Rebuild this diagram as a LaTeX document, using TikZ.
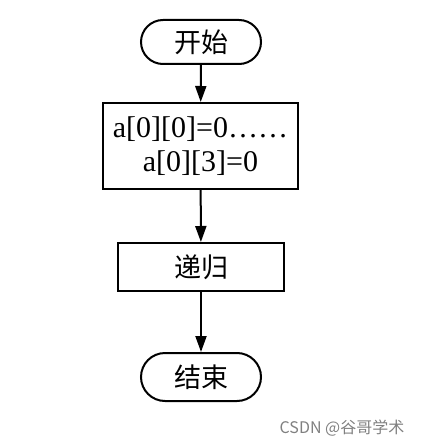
\documentclass[tikz,border=0pt]{standalone}
\usepackage{fontspec}
\setmainfont{Liberation Serif}
\newfontfamily\serifnum{Liberation Serif}
\newfontfamily\cjkfont{Noto Sans CJK SC}
\usetikzlibrary{arrows.meta}
\tikzset{
  term/.style={draw,line width=2pt,rounded corners=22pt,inner sep=0pt,minimum width=120pt,minimum height=44pt,font=\cjkfont\fontsize{27}{30}\selectfont},
  procbox/.style={draw,line width=2pt,inner sep=0pt},
  flow/.style={line width=2pt,-{Triangle[length=16pt,width=11pt]}}
}
\begin{document}
\begin{tikzpicture}[x=1pt,y=1pt]
\useasboundingbox (0,0) rectangle (426,-446);
\node[term] (start) at (201,-42) {开始};
\node[procbox,minimum width=195pt,minimum height=86pt,align=center,font=\serifnum\fontsize{30}{34}\selectfont] (init) at (200.5,-146) {a[0][0]=0\ldots\ldots\\a[0][3]=0};
\node[procbox,minimum width=166pt,minimum height=48pt,font=\cjkfont\fontsize{27}{30}\selectfont] (recur) at (201,-267) {递归};
\node[term,minimum height=48pt,rounded corners=24pt] (stop) at (201,-377) {结束};
\draw[flow] (start) -- (init);
\draw[flow] (init) -- (recur);
\draw[flow] (recur) -- (stop);
\node[text=gray,font=\cjkfont\fontsize{16}{18}\selectfont] (mark) at (342,-428) {CSDN @谷哥学术};
\end{tikzpicture}
\end{document}
